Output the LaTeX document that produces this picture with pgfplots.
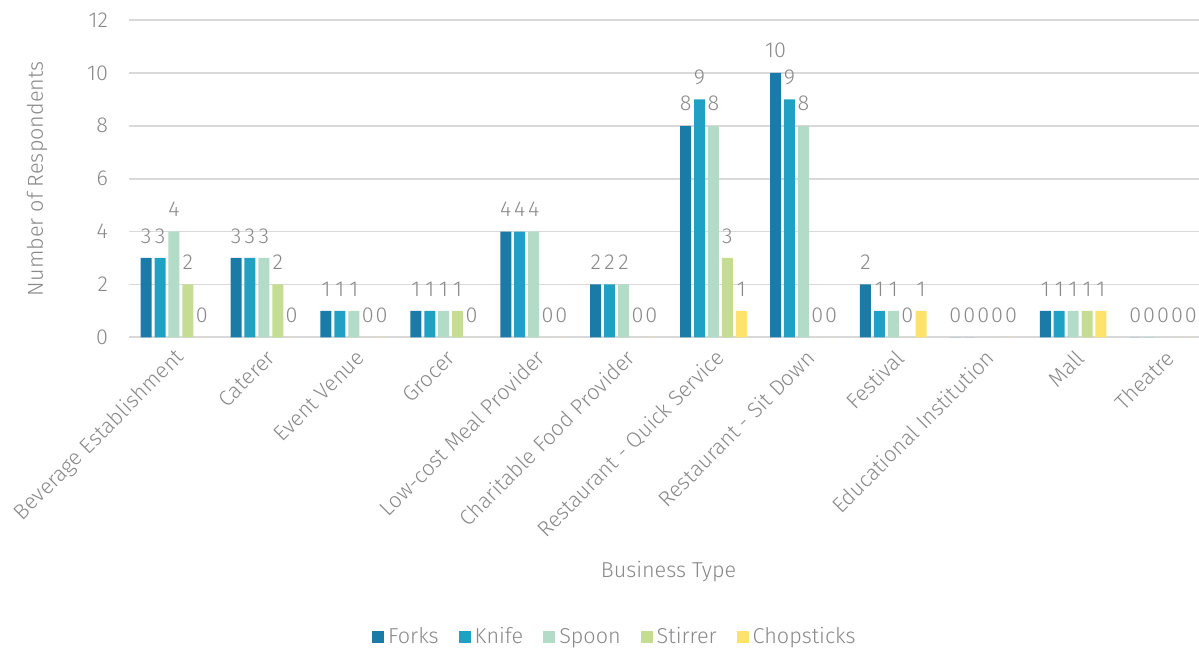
\documentclass[border=0pt]{standalone}
\usepackage{fontspec}
\setmainfont{Fira Sans Light}
\usepackage{pgfplots}
\pgfplotsset{compat=1.18}
\definecolor{txt}{RGB}{137,137,137}
\definecolor{gridc}{RGB}{217,217,217}
\definecolor{cF}{RGB}{26,123,166}
\definecolor{cK}{RGB}{32,161,196}
\definecolor{cS}{RGB}{178,219,200}
\definecolor{cT}{RGB}{197,221,146}
\definecolor{cC}{RGB}{253,227,106}
\newcommand{\fs}{\fontsize{10.8}{13}\selectfont}
\pgfplotsset{lg/.style={legend image code/.code={\fill[##1] (0pt,-3pt) rectangle (6pt,3pt);}}}
\begin{document}
\begin{tikzpicture}
\useasboundingbox (-64.5pt,-157.35pt) rectangle (535pt,168.65pt);
\begin{axis}[
 at={(0,0)}, anchor=south west, scale only axis,
 width=539.5pt, height=158.65pt,
 xmin=-0.5, xmax=11.5, ymin=0, ymax=12,
 ytick={0,2,...,12},
 xtick={0,...,11},
 xticklabels={Beverage Establishment,Caterer,Event Venue,Grocer,Low-cost Meal Provider,Charitable Food Provider,Restaurant - Quick Service,Restaurant - Sit Down,Festival,Educational Institution,Mall,Theatre},
 axis line style={draw=none},
 major tick length=0pt,
 ymajorgrids, grid style={gridc, line width=0.9pt},
 ybar=1.45pt, bar width=5.5pt,
 /pgf/number format/assume math mode=true,
 tick label style={font=\fs, text=txt},
 yticklabel shift=7pt,
 xticklabel style={rotate=45, anchor=east, yshift=-8.5pt, xshift=0pt},
 xlabel={Business Type},
 ylabel={Number of Respondents},
 label style={font=\fs, text=txt},
 xlabel style={at={(axis description cs:0.5,-0.7397)}, anchor=center},
 ylabel style={at={(axis description cs:-0.0853,0.5)}, anchor=center},
 nodes near coords,
 every node near coord/.append style={font=\fs, text=txt, yshift=3.8pt},
 legend columns=5,
 legend style={at={(axis description cs:0.4513,-0.9445)}, anchor=center, draw=none, fill=none,
   font=\fs, text=txt,
   /tikz/every even column/.append style={column sep=8pt}},
]
\addplot[fill=cF, draw=none, lg] coordinates {(0,3) (1,3) (2,1) (3,1) (4,4) (5,2) (6,8) (7,10) (8,2) (9,0) (10,1) (11,0)};
\addplot[fill=cK, draw=none, lg] coordinates {(0,3) (1,3) (2,1) (3,1) (4,4) (5,2) (6,9) (7,9) (8,1) (9,0) (10,1) (11,0)};
\addplot[fill=cS, draw=none, lg] coordinates {(0,4) (1,3) (2,1) (3,1) (4,4) (5,2) (6,8) (7,8) (8,1) (9,0) (10,1) (11,0)};
\addplot[fill=cT, draw=none, lg] coordinates {(0,2) (1,2) (2,0) (3,1) (4,0) (5,0) (6,3) (7,0) (8,0) (9,0) (10,1) (11,0)};
\addplot[fill=cC, draw=none, lg] coordinates {(0,0) (1,0) (2,0) (3,0) (4,0) (5,0) (6,1) (7,0) (8,1) (9,0) (10,1) (11,0)};
\legend{Forks,Knife,Spoon,Stirrer,Chopsticks}
\end{axis}
\end{tikzpicture}
\end{document}
